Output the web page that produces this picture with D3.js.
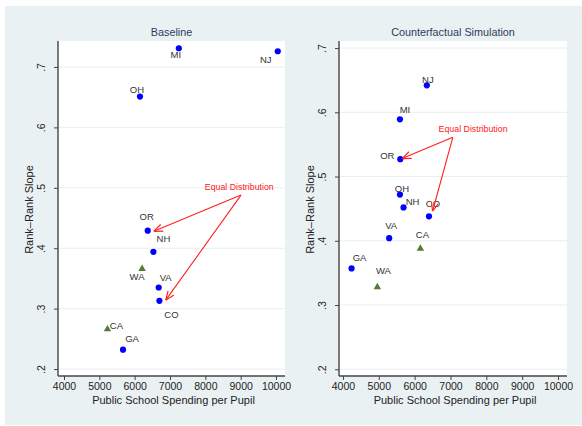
<!DOCTYPE html>
<html>
<head>
<meta charset="utf-8">
<style>
  body { margin: 0; background: #fff; }
  text { font-family: "Liberation Sans", Arial, sans-serif; }
</style>
</head>
<body>
<svg id="chart"></svg>
<script src="https://cdn.jsdelivr.net/npm/d3@7"></script>
<script>
// states in both panels
var states = ["MI", "NJ", "OH", "OR", "NH", "WA", "VA", "CO", "CA", "GA"];
// triangle = green marker group
var groupB = ["WA", "CA"];

// baseline panel
var baseSpend = [7250, 10050, 6150, 6370, 6530, 6210, 6680, 6700, 5230, 5670];
var baseSlope = [0.731, 0.726, 0.651, 0.429, 0.394, 0.366, 0.335, 0.313, 0.266, 0.232];

// counterfactual panel
var cfSpend = [5590, 6340, 5590, 5600, 5690, 4960, 5290, 6400, 6160, 4240];
var cfSlope = [0.589, 0.642, 0.472, 0.527, 0.452, 0.328, 0.404, 0.438, 0.388, 0.357];

var xTicks = [4000, 5000, 6000, 7000, 8000, 9000, 10000];
var yTicks = [0.2, 0.3, 0.4, 0.5, 0.6, 0.7];

// marker label offsets in px (label centre relative to marker)
var baseLabOff = { MI: [-3, 6], NJ: [-12, 8], OH: [-3, -7], OR: [-1, -14], NH: [10, -13],
                   WA: [-5, 8], VA: [7, -10], CO: [12, 14], CA: [9, -4], GA: [9, -11] };
var cfLabOff   = { MI: [5, -10], NJ: [1, -6], OH: [2, -6], OR: [-13, -4], NH: [9, -6],
                   WA: [6, -16], VA: [2, -13], CO: [4, -13], CA: [2, -14], GA: [8, -11] };

// annotation "Equal Distribution": text spot, arrow start, arrow ends (data units)
var baseNote = { text: [8960, 0.497], from: [9010, 0.488], to: [[6540, 0.428], [6880, 0.314]] };
var cfNote   = { text: [7630, 0.570], from: [7065, 0.561], to: [[5650, 0.528], [6500, 0.446]] };

var W = 582, H = 426;
var svg = d3.select("#chart").attr("width", W).attr("height", H);

svg.append("rect").attr("x", 5).attr("y", 6).attr("width", 577).attr("height", 419)
  .attr("fill", "#eaf1f3");

var defs = svg.append("defs");
defs.append("marker").attr("id", "barb")
  .attr("viewBox", "0 0 10 10").attr("refX", 10).attr("refY", 5)
  .attr("markerWidth", 9).attr("markerHeight", 9).attr("markerUnits", "userSpaceOnUse")
  .attr("orient", "auto")
  .append("path").attr("d", "M0,1 L10,5 L0,9")
  .attr("fill", "none").attr("stroke", "#ff2020").attr("stroke-width", 1.3);

function panel(opt) {
  var x = d3.scaleLinear().domain(opt.xDom).range([opt.x0, opt.x1]);
  var y = d3.scaleLinear().domain(opt.yDom).range([opt.y1, opt.y0]);
  var g = svg.append("g");

  g.append("rect").attr("x", opt.x0).attr("y", opt.y0)
    .attr("width", opt.x1 - opt.x0).attr("height", opt.y1 - opt.y0).attr("fill", "#fff");

  // grid
  g.selectAll(".grid").data(yTicks).enter().append("line")
    .attr("x1", opt.x0).attr("x2", opt.x1)
    .attr("y1", function(d){ return y(d); }).attr("y2", function(d){ return y(d); })
    .attr("stroke", "#e6eff1").attr("stroke-width", 1);

  g.append("text").attr("x", (opt.x0 + opt.x1) / 2).attr("y", 36)
    .attr("text-anchor", "middle").attr("font-size", 10.8).attr("fill", "#2d3c5c")
    .text(opt.title);

  // x axis
  var xa = g.append("g").attr("transform", "translate(0," + opt.y1 + ")")
    .call(d3.axisBottom(x).tickValues(xTicks).tickFormat(d3.format("d")).tickSize(4).tickSizeOuter(0));
  xa.select(".domain").attr("stroke", "#444").attr("stroke-width", 1.4)
    .attr("d", "M" + opt.x0 + ",0H" + opt.x1);
  xa.selectAll(".tick line").attr("stroke", "#444");
  xa.selectAll(".tick text").attr("font-size", 10.5).attr("fill", "#222")
    .attr("font-family", "Liberation Sans, Arial, sans-serif")
    .attr("y", 14).attr("dy", null);

  g.append("text").attr("x", (opt.x0 + opt.x1) / 2 + 2).attr("y", 403.5)
    .attr("text-anchor", "middle").attr("font-size", 11).attr("fill", "#222")
    .text("Public School Spending per Pupil");

  // y axis
  var ya = g.append("g").attr("transform", "translate(" + opt.x0 + ",0)")
    .call(d3.axisLeft(y).tickValues(yTicks).tickSize(4).tickSizeOuter(0)
      .tickFormat(function(d){ return d3.format(".1f")(d).replace(/^0/, ""); }));
  ya.select(".domain").attr("stroke", "#444").attr("stroke-width", 1.4)
    .attr("d", "M0," + opt.y0 + "V" + opt.y1);
  ya.selectAll(".tick line").attr("stroke", "#444");
  ya.selectAll(".tick text").attr("font-size", 10.5).attr("fill", "#222")
    .attr("font-family", "Liberation Sans, Arial, sans-serif")
    .attr("x", null).attr("dy", null).attr("text-anchor", "middle")
    .attr("transform", "translate(-13,0) rotate(-90)");

  g.append("text")
    .attr("transform", "translate(" + (opt.x0 - 25) + "," + ((opt.y0 + opt.y1) / 2 + 1) + ") rotate(-90)")
    .attr("text-anchor", "middle").attr("font-size", 11).attr("fill", "#222")
    .text("Rank\u2013Rank Slope");

  var pts = states.map(function(s, i){
    return { s: s, x: opt.xs[i], y: opt.ys[i], tri: groupB.indexOf(s) >= 0 };
  });

  g.selectAll(".dot").data(pts.filter(function(d){ return !d.tri; })).enter().append("circle")
    .attr("cx", function(d){ return x(d.x); }).attr("cy", function(d){ return y(d.y); })
    .attr("r", 3.1).attr("fill", "#0000ff");

  g.selectAll(".tri").data(pts.filter(function(d){ return d.tri; })).enter().append("path")
    .attr("d", d3.symbol().type(d3.symbolTriangle).size(24))
    .attr("transform", function(d){ return "translate(" + x(d.x) + "," + y(d.y) + ")"; })
    .attr("fill", "#557a33");

  g.selectAll(".lab").data(pts).enter().append("text")
    .attr("x", function(d){ return x(d.x) + opt.labOff[d.s][0]; })
    .attr("y", function(d){ return y(d.y) + opt.labOff[d.s][1]; })
    .attr("text-anchor", "middle")
    .attr("dy", "0.35em")
    .attr("font-size", 9.5).attr("fill", "#333")
    .text(function(d){ return d.s; });

  // annotation
  var n = opt.note;
  g.append("text").attr("x", x(n.text[0])).attr("y", y(n.text[1]))
    .attr("text-anchor", "middle").attr("font-size", 8.8).attr("fill", "#ff2020")
    .text("Equal Distribution");
  g.selectAll(".arrow").data(n.to).enter().append("line")
    .attr("x1", x(n.from[0])).attr("y1", y(n.from[1]))
    .attr("x2", function(d){ return x(d[0]); }).attr("y2", function(d){ return y(d[1]); })
    .attr("stroke", "#ff2020").attr("stroke-width", 1.1)
    .attr("marker-end", "url(#barb)");
}

panel({ title: "Baseline", x0: 58, x1: 285, y0: 41, y1: 376,
  xDom: [3830, 10255], yDom: [0.1885, 0.743],
  xs: baseSpend, ys: baseSlope, labOff: baseLabOff, note: baseNote });

panel({ title: "Counterfactual Simulation", x0: 339, x1: 567, y0: 41, y1: 376,
  xDom: [3890, 10250], yDom: [0.1895, 0.711],
  xs: cfSpend, ys: cfSlope, labOff: cfLabOff, note: cfNote });
</script>
</body>
</html>
